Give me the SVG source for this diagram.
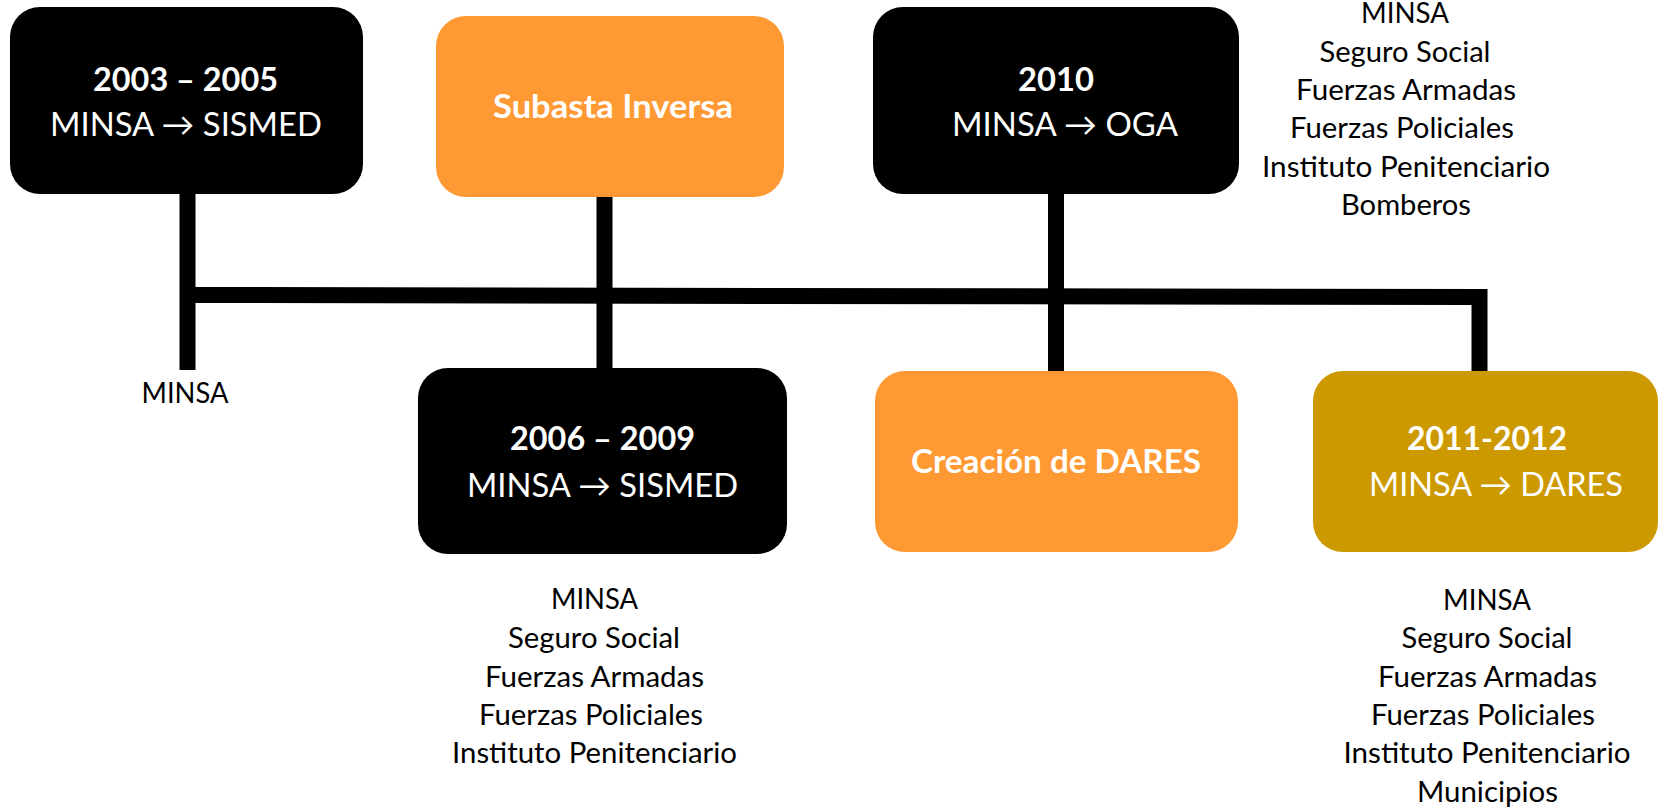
<svg xmlns="http://www.w3.org/2000/svg" width="1658" height="807" viewBox="0 0 1658 807">
<style>
text{font-family:Lato,"Open Sans","Liberation Sans",sans-serif}
.t{font-size:32px;fill:#fff}
.b{font-weight:bold}
.l{font-size:28px;fill:#000;text-anchor:middle}
.blk{fill:#000}
.org{fill:#FF9933}
.gld{fill:#CC9900}
.c{fill:none;stroke:#000;stroke-width:16;stroke-linecap:butt;stroke-linejoin:miter}
</style>
<rect width="1658" height="807" fill="#fff"/>
<g id="connectors">
<path class="c" d="M187.5 194V370"/>
<path class="c" d="M604.5 197V368"/>
<path class="c" d="M1056 194V371"/>
<path class="c" d="M187.5 295L1479.5 297V371"/>
</g>
<g id="n2003">
<rect class="blk" x="10" y="7" width="353" height="187" rx="30"/>
<text class="t b" x="93" y="91" textLength="185" lengthAdjust="spacingAndGlyphs">2003 – 2005</text>
<text class="t" x="50" y="136" textLength="272" lengthAdjust="spacingAndGlyphs">MINSA → SISMED</text>
</g>
<g id="nSubasta">
<rect class="org" x="436" y="16" width="348" height="181" rx="30"/>
<text class="t b" x="493" y="118" textLength="240" lengthAdjust="spacingAndGlyphs">Subasta Inversa</text>
</g>
<g id="n2010">
<rect class="blk" x="873" y="7" width="366" height="187" rx="30"/>
<text class="t b" x="1018" y="91" textLength="76" lengthAdjust="spacingAndGlyphs">2010</text>
<text class="t" x="952" y="136" textLength="226" lengthAdjust="spacingAndGlyphs">MINSA → OGA</text>
</g>
<g id="n2006">
<rect class="blk" x="418" y="368" width="369" height="186" rx="30"/>
<text class="t b" x="510" y="450" textLength="185" lengthAdjust="spacingAndGlyphs">2006 – 2009</text>
<text class="t" x="467" y="497" textLength="271" lengthAdjust="spacingAndGlyphs">MINSA → SISMED</text>
</g>
<g id="nDares">
<rect class="org" x="875" y="371" width="363" height="181" rx="30"/>
<text class="t b" x="911" y="473" textLength="290" lengthAdjust="spacingAndGlyphs">Creación de DARES</text>
</g>
<g id="n2011">
<rect class="gld" x="1313" y="371" width="345" height="181" rx="30"/>
<text class="t b" x="1407" y="450" textLength="160" lengthAdjust="spacingAndGlyphs">2011-2012</text>
<text class="t" x="1369" y="496" textLength="254" lengthAdjust="spacingAndGlyphs">MINSA → DARES</text>
</g>
<g id="list2003">
<text class="l" x="185" y="403" textLength="87" lengthAdjust="spacingAndGlyphs">MINSA</text>
</g>
<g id="list2010">
<text class="l" x="1405" y="23" textLength="88" lengthAdjust="spacingAndGlyphs">MINSA</text>
<text class="l" x="1405" y="62" textLength="171" lengthAdjust="spacingAndGlyphs">Seguro Social</text>
<text class="l" x="1406" y="100" textLength="220" lengthAdjust="spacingAndGlyphs">Fuerzas Armadas</text>
<text class="l" x="1402" y="138" textLength="224" lengthAdjust="spacingAndGlyphs">Fuerzas Policiales</text>
<text class="l" x="1406" y="177" textLength="288" lengthAdjust="spacingAndGlyphs">Instituto Penitenciario</text>
<text class="l" x="1406" y="215" textLength="130" lengthAdjust="spacingAndGlyphs">Bomberos</text>
</g>
<g id="list2006">
<text class="l" x="594.5" y="609" textLength="87" lengthAdjust="spacingAndGlyphs">MINSA</text>
<text class="l" x="594" y="648" textLength="172" lengthAdjust="spacingAndGlyphs">Seguro Social</text>
<text class="l" x="594.5" y="687" textLength="219" lengthAdjust="spacingAndGlyphs">Fuerzas Armadas</text>
<text class="l" x="591" y="725" textLength="224" lengthAdjust="spacingAndGlyphs">Fuerzas Policiales</text>
<text class="l" x="594.5" y="763" textLength="285" lengthAdjust="spacingAndGlyphs">Instituto Penitenciario</text>
</g>
<g id="list2011">
<text class="l" x="1487" y="610" textLength="88" lengthAdjust="spacingAndGlyphs">MINSA</text>
<text class="l" x="1487" y="648" textLength="171" lengthAdjust="spacingAndGlyphs">Seguro Social</text>
<text class="l" x="1487.5" y="687" textLength="219" lengthAdjust="spacingAndGlyphs">Fuerzas Armadas</text>
<text class="l" x="1483" y="725" textLength="224" lengthAdjust="spacingAndGlyphs">Fuerzas Policiales</text>
<text class="l" x="1487" y="763" textLength="287" lengthAdjust="spacingAndGlyphs">Instituto Penitenciario</text>
<text class="l" x="1487.5" y="802" textLength="141" lengthAdjust="spacingAndGlyphs">Municipios</text>
</g>
</svg>
